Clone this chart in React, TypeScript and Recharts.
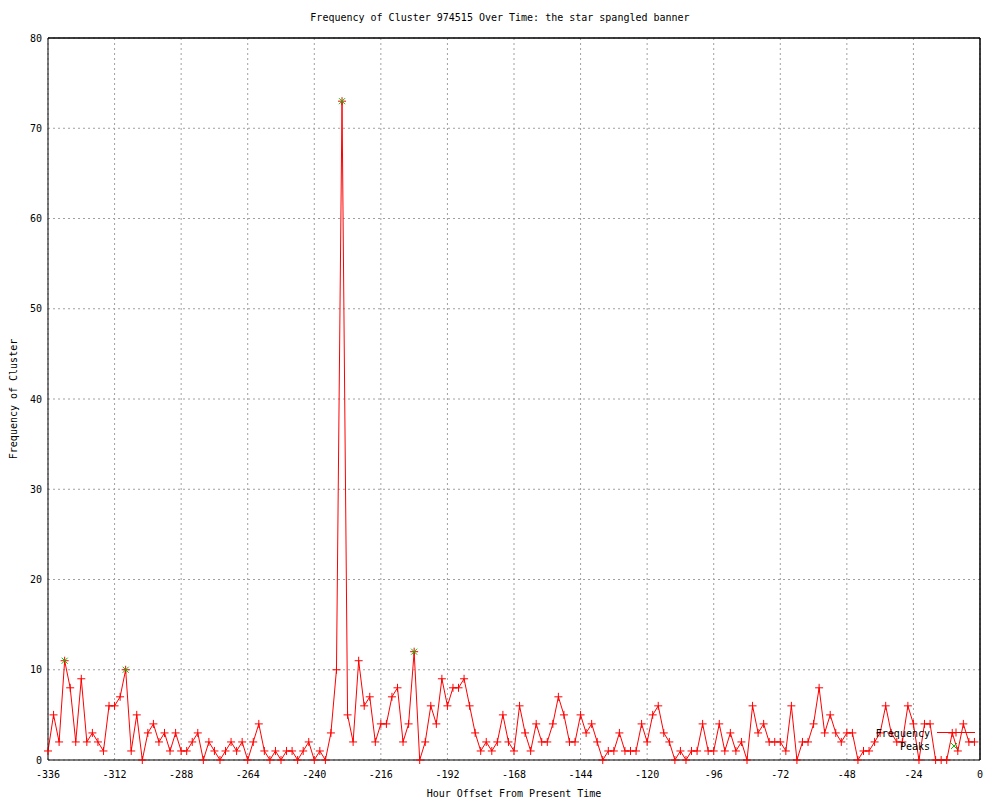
import React from "react";
import {
  LineChart,
  Line,
  XAxis,
  YAxis,
  CartesianGrid,
  ReferenceLine,
  Label,
} from "recharts";

// hours run from -336 to -2, one sample every 2 hours
const firstHour = -336;
const hourStep = 2;

const frequency = [
  1, 5, 2, 11, 8, 2, 9, 2, 3, 2,
  1, 6, 6, 7, 10, 1, 5, 0, 3, 4,
  2, 3, 1, 3, 1, 1, 2, 3, 0, 2,
  1, 0, 1, 2, 1, 2, 0, 2, 4, 1,
  0, 1, 0, 1, 1, 0, 1, 2, 0, 1,
  0, 3, 10, 73, 5, 2, 11, 6, 7, 2,
  4, 4, 7, 8, 2, 4, 12, 0, 2, 6,
  4, 9, 6, 8, 8, 9, 6, 3, 1, 2,
  1, 2, 5, 2, 1, 6, 3, 1, 4, 2,
  2, 4, 7, 5, 2, 2, 5, 3, 4, 2,
  0, 1, 1, 3, 1, 1, 1, 4, 2, 5,
  6, 3, 2, 0, 1, 0, 1, 1, 4, 1,
  1, 4, 1, 3, 1, 2, 0, 6, 3, 4,
  2, 2, 2, 1, 6, 0, 2, 2, 4, 8,
  3, 5, 3, 2, 3, 3, 0, 1, 1, 2,
  3, 6, 3, 2, 2, 6, 4, 0, 4, 4,
  0, 0, 0, 3, 1, 4, 2, 2,
];

const peakHours = [-330, -308, -230, -204];
const peakValues = [11, 10, 73, 12];

const xTicks = [-336, -312, -288, -264, -240, -216, -192, -168, -144, -120, -96, -72, -48, -24, 0];
const yTicks = [0, 10, 20, 30, 40, 50, 60, 70, 80];

const chartData = frequency.map((v, i) => {
  const hour = firstHour + i * hourStep;
  const p = peakHours.indexOf(hour);
  return { hour, freq: v, peak: p >= 0 ? peakValues[p] : null };
});

const X_MIN = -336;
const X_MAX = 0;
const Y_MIN = 0;
const Y_MAX = 80;

const PLOT_TOP = 38;
const TIC = 16;
const FONT = "'DejaVu Sans Mono', monospace";

const PlusDot = (props: any) => {
  const { cx, cy, index } = props;
  if (cx == null || cy == null) return <g key={`f-${index}`} />;
  return (
    <path
      key={`f-${index}`}
      d={`M${cx - 4},${cy}H${cx + 4}M${cx},${cy - 4}V${cy + 4}`}
      stroke="#ff0000"
      strokeWidth={1}
      fill="none"
    />
  );
};

const CrossDot = (props: any) => {
  const { cx, cy, index, value } = props;
  if (cx == null || cy == null || value == null) return <g key={`k-${index}`} />;
  return (
    <path
      key={`k-${index}`}
      d={`M${cx - 3},${cy - 3}L${cx + 3},${cy + 3}M${cx - 3},${cy + 3}L${cx + 3},${cy - 3}`}
      stroke="#00c000"
      strokeWidth={1}
      fill="none"
    />
  );
};

const XTick = (props: any) => {
  const { x, payload } = props;
  return (
    <text
      x={x}
      y={774}
      textAnchor="middle"
      dominantBaseline="central"
      fontFamily={FONT}
      fontSize={10}
      fill="#000"
    >
      {payload.value}
    </text>
  );
};

const YTick = (props: any) => {
  const { y, payload } = props;
  return (
    <text
      x={42}
      y={y}
      textAnchor="end"
      dominantBaseline="central"
      fontFamily={FONT}
      fontSize={10}
      fill="#000"
    >
      {payload.value}
    </text>
  );
};

// key box, bottom right inside the plot
const LegendBox = () => (
  <svg
    width={130}
    height={30}
    style={{ position: "absolute", left: 860, top: 724, pointerEvents: "none" }}
  >
    <text x={70} y={9} textAnchor="end" dominantBaseline="central" fontFamily={FONT} fontSize={10}>
      Frequency
    </text>
    <line x1={77} x2={115} y1={8.5} y2={8.5} stroke="#ff0000" />
    <path d="M92,8.5H100M96,4.5V12.5" stroke="#ff0000" />
    <text x={70} y={22} textAnchor="end" dominantBaseline="central" fontFamily={FONT} fontSize={10}>
      Peaks
    </text>
    <path d="M91,19L97,25M91,25L97,19" stroke="#00c000" />
  </svg>
);

export default function App() {
  return (
    <div
      style={{
        position: "absolute",
        left: 0,
        top: 0,
        width: 1000,
        height: 800,
        background: "#fff",
      }}
    >
      <div
        style={{
          position: "absolute",
          top: 11,
          width: 1000,
          textAlign: "center",
          fontFamily: FONT,
          fontSize: 10,
          lineHeight: "14px",
        }}
      >
        Frequency of Cluster 974515 Over Time: the star spangled banner
      </div>
      <LineChart
        width={1000}
        height={800}
        data={chartData}
        margin={{ top: PLOT_TOP, right: 20, left: 0, bottom: 10 }}
      >
        <CartesianGrid stroke="#a0a0a0" strokeDasharray="2 3" />
        <XAxis
          dataKey="hour"
          type="number"
          domain={[X_MIN, X_MAX]}
          ticks={xTicks}
          height={30}
          tickLine={false}
          axisLine={{ stroke: "#000" }}
          tick={XTick}
        >
          <Label
            content={(p: any) => (
              <text
                x={p.viewBox.x + p.viewBox.width / 2}
                y={793}
                textAnchor="middle"
                dominantBaseline="central"
                fontFamily={FONT}
                fontSize={10}
              >
                Hour Offset From Present Time
              </text>
            )}
          />
        </XAxis>
        {/* inward tic marks, bottom */}
        <XAxis
          xAxisId="bottomTics"
          dataKey="hour"
          type="number"
          domain={[X_MIN, X_MAX]}
          ticks={xTicks}
          mirror
          axisLine={false}
          tick={false}
          tickSize={TIC}
          tickLine={{ stroke: "#000" }}
        />
        {/* border and inward tic marks, top */}
        <XAxis
          xAxisId="topTics"
          orientation="top"
          dataKey="hour"
          type="number"
          domain={[X_MIN, X_MAX]}
          ticks={xTicks}
          mirror
          axisLine={{ stroke: "#000" }}
          tick={false}
          tickSize={TIC}
          tickLine={{ stroke: "#000" }}
        />
        <YAxis
          type="number"
          domain={[Y_MIN, Y_MAX]}
          ticks={yTicks}
          width={48}
          tickLine={false}
          axisLine={{ stroke: "#000" }}
          tick={YTick}
        >
          <Label
            content={(p: any) => {
              const cy = p.viewBox.y + p.viewBox.height / 2;
              return (
                <text
                  x={13}
                  y={cy}
                  transform={`rotate(-90 13 ${cy})`}
                  textAnchor="middle"
                  dominantBaseline="central"
                  fontFamily={FONT}
                  fontSize={10}
                >
                  Frequency of Cluster
                </text>
              );
            }}
          />
        </YAxis>
        <YAxis
          yAxisId="leftTics"
          type="number"
          dataKey="freq"
          domain={[Y_MIN, Y_MAX]}
          ticks={yTicks}
          mirror
          axisLine={false}
          tick={false}
          tickSize={TIC}
          tickLine={{ stroke: "#000" }}
        />
        <YAxis
          yAxisId="rightTics"
          orientation="right"
          type="number"
          dataKey="freq"
          domain={[Y_MIN, Y_MAX]}
          ticks={yTicks}
          mirror
          axisLine={{ stroke: "#000" }}
          tick={false}
          tickSize={TIC}
          tickLine={{ stroke: "#000" }}
        />
        <ReferenceLine y={Y_MAX} stroke="#000" />
        <ReferenceLine x={X_MAX} stroke="#000" />
        <Line
          dataKey="freq"
          name="Frequency"
          type="linear"
          stroke="#ff0000"
          strokeWidth={1}
          dot={PlusDot}
          activeDot={false}
          isAnimationActive={false}
        />
        <Line
          dataKey="peak"
          name="Peaks"
          type="linear"
          stroke="none"
          dot={CrossDot}
          activeDot={false}
          connectNulls={false}
          isAnimationActive={false}
        />
      </LineChart>
      <LegendBox />
    </div>
  );
}
